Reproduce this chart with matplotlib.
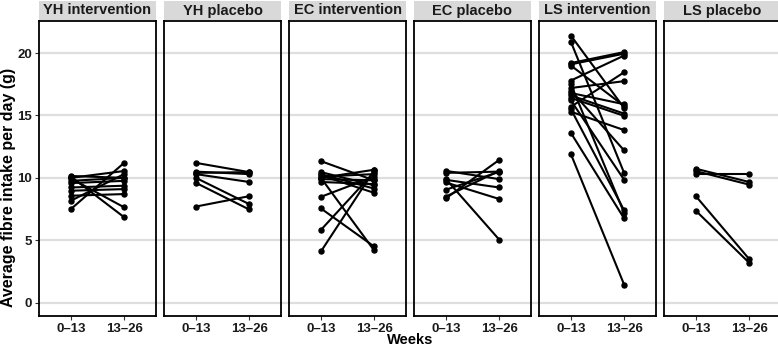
import numpy as np
import matplotlib.pyplot as plt
from matplotlib.patches import Rectangle

plt.rcParams['font.family'] = ['Liberation Sans', 'DejaVu Sans']

panels = ["YH intervention", "YH placebo", "EC intervention",
          "EC placebo", "LS intervention", "LS placebo"]
periods = ["0\u201313", "13\u201326"]

# weeks 0-13 / weeks 13-26, one pair per participant
yh_int_a = [7.5, 8.17, 10.1, 9.95, 9.76, 9.58, 9.23, 8.97, 8.57, 10.0, 10.15]
yh_int_b = [11.2, 10.3, 6.85, 7.64, 10.0, 9.76, 9.37, 9.1, 8.7, 10.55, 10.0]

yh_pla_a = [11.2, 10.5, 10.3, 10.0, 9.6, 7.7, 10.4]
yh_pla_b = [10.46, 10.3, 9.67, 7.9, 7.47, 8.53, 10.46]

ec_int_a = [11.34, 4.1, 5.83, 7.55, 10.0, 8.48, 10.46, 10.3, 10.2, 10.0, 9.9, 10.1, 9.67]
ec_int_b = [9.8, 10.6, 10.46, 4.5, 4.19, 10.1, 9.4, 9.14, 8.8, 10.65, 9.8, 10.3, 9.5]

ec_pla_a = [8.36, 8.5, 9.05, 10.56, 10.4, 9.84, 9.9, 9.63]
ec_pla_b = [11.43, 10.56, 10.48, 9.9, 10.5, 9.23, 5.06, 8.31]

ls_int_a = [21.4, 20.9, 19.2, 19.1, 19.0, 17.8, 17.5, 17.2, 17.0, 16.8,
            16.6, 16.4, 16.2, 15.7, 15.5, 15.3, 13.6, 11.9]
ls_int_b = [15.6, 10.4, 20.08, 19.95, 15.76, 19.8, 7.2, 17.75, 12.2, 15.9,
            15.15, 14.97, 9.85, 18.46, 7.4, 13.83, 6.75, 1.45]

ls_pla_a = [10.73, 10.54, 10.28, 8.53, 7.36]
ls_pla_b = [9.67, 9.46, 10.28, 3.5, 3.2]

data = [(yh_int_a, yh_int_b), (yh_pla_a, yh_pla_b), (ec_int_a, ec_int_b),
        (ec_pla_a, ec_pla_b), (ls_int_a, ls_int_b), (ls_pla_a, ls_pla_b)]

W, H = 778, 347
fig = plt.figure(figsize=(W / 100, H / 100), dpi=100)

ylim = (-1.07, 22.57)
yticks = [0, 5, 10, 15, 20]
grid_col = "#DEDEDE"

left0, pw, step = 39, 117, 125
top, bot = 21, 316

# background gridlines run across the panel gaps too
bg = fig.add_axes([left0 / W, 1 - bot / H, (5 * step + pw + 5) / W, (bot - top) / H])
bg.set_xlim(0, 1)
bg.set_ylim(*ylim)
for t in yticks:
    bg.axhline(t, color=grid_col, lw=1.6, zorder=0)
bg.axis("off")
bg.set_zorder(0)

for i, (name, (a, b)) in enumerate(zip(panels, data)):
    x0 = left0 + i * step
    ax = fig.add_axes([x0 / W, 1 - bot / H, pw / W, (bot - top) / H])
    ax.set_zorder(1)
    ax.patch.set_alpha(0)
    for va, vb in zip(a, b):
        ax.plot([1, 2], [va, vb], color="black", lw=1.5, zorder=3)
    ax.scatter([1] * len(a) + [2] * len(b), list(a) + list(b),
               s=13, color="black", zorder=4)
    ax.set_xlim(0.4, 2.6)
    ax.set_ylim(*ylim)
    ax.set_xticks([1, 2])
    ax.set_xticklabels(periods, fontsize=9.5, fontweight="bold", color="#1a1a1a")
    ax.set_yticks(yticks)
    if i == 0:
        ax.set_yticklabels([str(t) for t in yticks], fontsize=9.5,
                           fontweight="bold", color="#1a1a1a")
    else:
        ax.tick_params(axis="y", left=False, labelleft=False)
    ax.tick_params(length=3, width=0.8, color="#333333", pad=2)
    for s in ax.spines.values():
        s.set_linewidth(1.3)
        s.set_color("black")
    # facet strip
    fig.patches.append(Rectangle((x0 / W, 1 - (top - 1) / H), pw / W, 19 / H,
                                 transform=fig.transFigure, facecolor="#D9D9D9",
                                 edgecolor="none", zorder=0))
    fig.text((x0 + pw / 2) / W, 1 - (top - 1 - 9.5) / H, name, ha="center",
             va="center", fontsize=10.5, fontweight="bold", color="#1a1a1a")

fig.text((left0 + (5 * step + pw) / 2) / W, 1 - 340 / H, "Weeks",
         ha="center", va="center", fontsize=10.5, fontweight="bold")
fig.text(9 / W, 1 - 187 / H, "Average fibre intake per day (g)", rotation=90,
         ha="center", va="center", fontsize=11.5, fontweight="bold")

fig.savefig("out.png", dpi=100)
